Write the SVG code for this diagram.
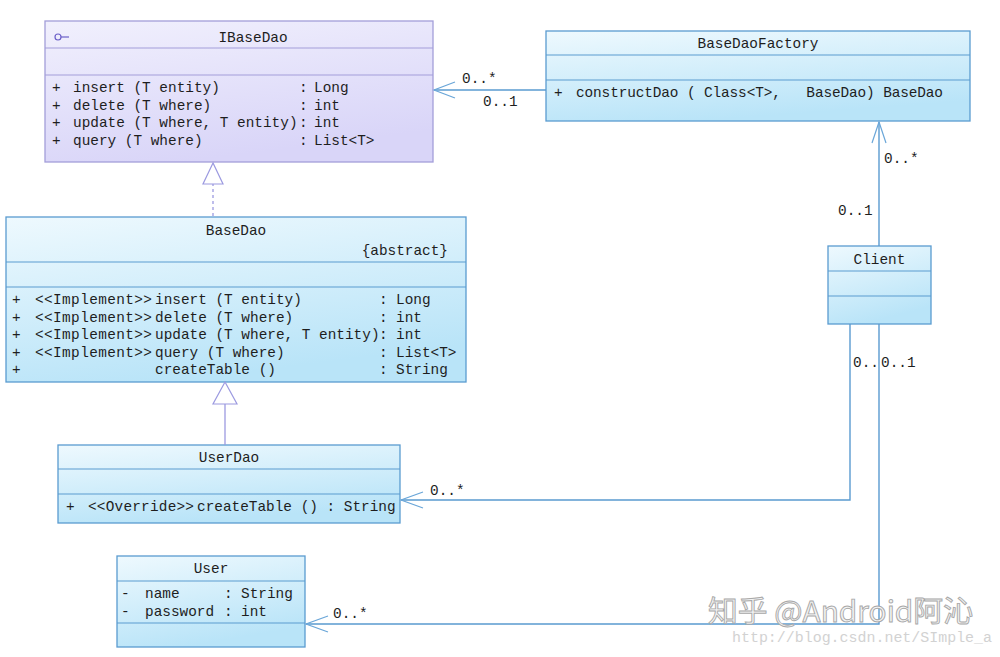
<svg xmlns="http://www.w3.org/2000/svg" width="1000" height="657" viewBox="0 0 1000 657">
<defs>
<linearGradient id="gBlue" x1="0" y1="0" x2="0.35" y2="1">
<stop offset="0" stop-color="#eef9fe"/>
<stop offset="1" stop-color="#b9e4f8"/>
</linearGradient>
<linearGradient id="gPurple" x1="0" y1="0" x2="0.35" y2="1">
<stop offset="0" stop-color="#f1f0fd"/>
<stop offset="1" stop-color="#d9d5f8"/>
</linearGradient>
<style>
text{font-family:"Liberation Mono","DejaVu Sans Mono",monospace;font-size:14.4px;fill:#1e1e1e;}
.mid{text-anchor:middle;}
.end{text-anchor:end;}
.bbox{fill:url(#gBlue);stroke:#5a9bd0;stroke-width:1.3;}
.bsep{stroke:#5a9bd0;stroke-width:1.2;}
.pbox{fill:url(#gPurple);stroke:#a39ed9;stroke-width:1.3;}
.psep{stroke:#a39ed9;stroke-width:1.2;}
.conn{fill:none;stroke:#5a9bd0;stroke-width:1.4;}
.head{fill:none;stroke:#6aa6d8;stroke-width:1.2;}
.gen{fill:#ffffff;stroke:#9c9ae0;stroke-width:1.2;}
.genl{fill:none;stroke:#9c9ae0;stroke-width:1.3;}
.wm{font-family:"Noto Sans CJK SC","Noto Sans",sans-serif;font-size:29px;fill:#f4f4f4;stroke:#a8a8a8;stroke-width:0.9;}
.url{font-family:"Liberation Mono",monospace;font-size:14px;fill:#d2d2d2;}
</style>
</defs>
<rect x="0" y="0" width="1000" height="657" fill="#ffffff"/>

<g id="IBaseDao">
<rect class="pbox" x="45" y="21" width="388" height="141"/>
<line class="psep" x1="45" y1="48" x2="433" y2="48"/>
<line class="psep" x1="45" y1="75" x2="433" y2="75"/>
<circle cx="58" cy="37" r="3" fill="none" stroke="#6b5fc8" stroke-width="1.2"/>
<line x1="61" y1="37" x2="69" y2="37" stroke="#6b5fc8" stroke-width="1.2"/>
<text class="mid" x="253" y="42">IBaseDao</text>
<text y="92"><tspan x="52">+</tspan><tspan x="73">insert (T entity)</tspan><tspan x="299">:</tspan><tspan x="314">Long</tspan></text>
<text y="110"><tspan x="52">+</tspan><tspan x="73">delete (T where)</tspan><tspan x="299">:</tspan><tspan x="314">int</tspan></text>
<text y="127"><tspan x="52">+</tspan><tspan x="73">update (T where, T entity)</tspan><tspan x="299">:</tspan><tspan x="314">int</tspan></text>
<text y="145"><tspan x="52">+</tspan><tspan x="73">query (T where)</tspan><tspan x="299">:</tspan><tspan x="314">List&lt;T&gt;</tspan></text>
</g>

<g id="BaseDaoFactory">
<rect class="bbox" x="546" y="31" width="424" height="90"/>
<line class="bsep" x1="546" y1="55" x2="970" y2="55"/>
<line class="bsep" x1="546" y1="80" x2="970" y2="80"/>
<text class="mid" x="758" y="48">BaseDaoFactory</text>
<text y="97"><tspan x="554">+</tspan><tspan x="576" xml:space="preserve" textLength="367" lengthAdjust="spacing">constructDao ( Class&lt;T&gt;,   BaseDao) BaseDao</tspan></text>
</g>

<g id="BaseDao">
<rect class="bbox" x="6" y="217" width="460" height="165"/>
<line class="bsep" x1="6" y1="262" x2="466" y2="262"/>
<line class="bsep" x1="6" y1="287" x2="466" y2="287"/>
<text class="mid" x="236" y="235">BaseDao</text>
<text class="end" x="448" y="255">{abstract}</text>
<text y="304"><tspan x="12">+</tspan><tspan x="35" textLength="117" lengthAdjust="spacing">&lt;&lt;Implement&gt;&gt;</tspan><tspan x="155">insert (T entity)</tspan><tspan x="379">:</tspan><tspan x="396">Long</tspan></text>
<text y="321.5"><tspan x="12">+</tspan><tspan x="35" textLength="117" lengthAdjust="spacing">&lt;&lt;Implement&gt;&gt;</tspan><tspan x="155">delete (T where)</tspan><tspan x="379">:</tspan><tspan x="396">int</tspan></text>
<text y="339"><tspan x="12">+</tspan><tspan x="35" textLength="117" lengthAdjust="spacing">&lt;&lt;Implement&gt;&gt;</tspan><tspan x="155">update (T where, T entity)</tspan><tspan x="379">:</tspan><tspan x="396">int</tspan></text>
<text y="356.5"><tspan x="12">+</tspan><tspan x="35" textLength="117" lengthAdjust="spacing">&lt;&lt;Implement&gt;&gt;</tspan><tspan x="155">query (T where)</tspan><tspan x="379">:</tspan><tspan x="396">List&lt;T&gt;</tspan></text>
<text y="374"><tspan x="12">+</tspan><tspan x="155">createTable ()</tspan><tspan x="379">:</tspan><tspan x="396">String</tspan></text>
</g>

<g id="UserDao">
<rect class="bbox" x="58" y="445" width="342" height="78"/>
<line class="bsep" x1="58" y1="469" x2="400" y2="469"/>
<line class="bsep" x1="58" y1="494" x2="400" y2="494"/>
<text class="mid" x="229" y="462">UserDao</text>
<text y="511"><tspan x="66">+</tspan><tspan x="88" textLength="106" lengthAdjust="spacing">&lt;&lt;Override&gt;&gt;</tspan><tspan x="197" xml:space="preserve">createTable () : String</tspan></text>
</g>

<g id="User">
<rect class="bbox" x="117" y="556" width="188" height="91"/>
<line class="bsep" x1="117" y1="581" x2="305" y2="581"/>
<line class="bsep" x1="117" y1="623" x2="305" y2="623"/>
<text class="mid" x="211" y="573">User</text>
<text y="598"><tspan x="121">-</tspan><tspan x="145">name</tspan><tspan x="224">:</tspan><tspan x="241">String</tspan></text>
<text y="616"><tspan x="121">-</tspan><tspan x="145">password</tspan><tspan x="224">:</tspan><tspan x="241">int</tspan></text>
</g>

<g id="Client">
<rect class="bbox" x="828" y="246" width="103" height="78"/>
<line class="bsep" x1="828" y1="271" x2="931" y2="271"/>
<line class="bsep" x1="828" y1="296" x2="931" y2="296"/>
<text class="mid" x="879.5" y="264">Client</text>
</g>

<g id="connectors">
<line class="genl" x1="213" y1="216" x2="213" y2="184" stroke-dasharray="3,3"/>
<polygon class="gen" points="213,163 203,184 223,184"/>
<line class="genl" x1="225" y1="445" x2="225" y2="404"/>
<polygon class="gen" points="225,382 213,404 237,404"/>
<line class="conn" x1="546" y1="90" x2="434" y2="90"/>
<polyline class="head" points="455,82 434,90 455,98"/>
<text x="462" y="83">0..*</text>
<text x="483" y="106">0..1</text>
<line class="conn" x1="879" y1="246" x2="879" y2="122"/>
<polyline class="head" points="872,143 879,122 886,143"/>
<text x="884" y="163">0..*</text>
<text x="838" y="215">0..1</text>
<polyline class="conn" points="850,324 850,500 401,500"/>
<polyline class="head" points="423,492 401,500 423,508"/>
<text x="853" y="367">0..</text>
<text x="430" y="495">0..*</text>
<polyline class="conn" points="879,324 879,624 306,624"/>
<polyline class="head" points="328,616 306,624 328,632"/>
<text x="881" y="367">0..1</text>
<text x="333" y="618">0..*</text>
</g>

<g id="watermark">
<text class="wm" x="708" y="622" textLength="265" lengthAdjust="spacingAndGlyphs">知乎 @Android阿沁</text>
<text class="url" x="732" y="642" textLength="260" lengthAdjust="spacingAndGlyphs">http://blog.csdn.net/SImple_a</text>
</g>
</svg>
